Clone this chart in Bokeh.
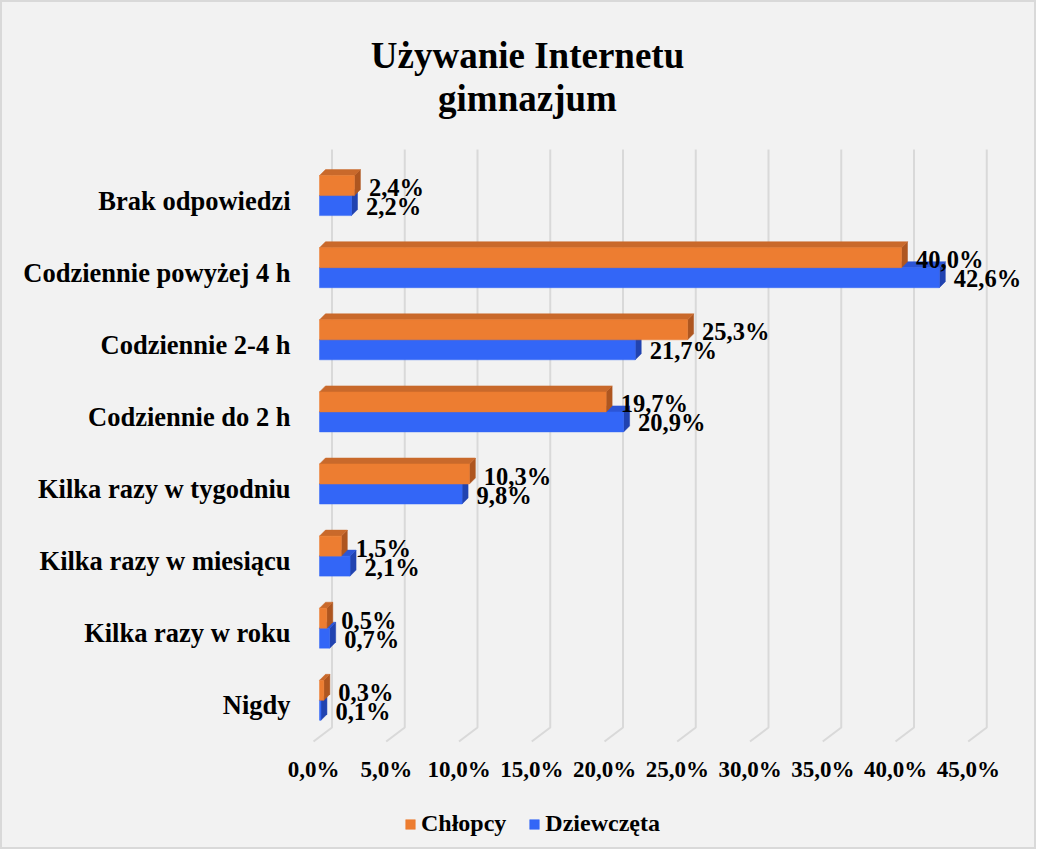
from bokeh.plotting import figure
from bokeh.models import Range1d, ColumnDataSource, Legend, LegendItem
from bokeh.core.properties import value
from bokeh.embed import file_html
from bokeh.resources import INLINE

# ---- data ----
categories = ["Nigdy", "Kilka razy w roku", "Kilka razy w miesiącu", "Kilka razy w tygodniu",
              "Codziennie do 2 h", "Codziennie 2-4 h", "Codziennie powyżej 4 h", "Brak odpowiedzi"]
chlopcy = [0.3, 0.5, 1.5, 10.3, 19.7, 25.3, 40.0, 2.4]
dziewczeta = [0.1, 0.7, 2.1, 9.8, 20.9, 21.7, 42.6, 2.2]
ticks = [0, 5, 10, 15, 20, 25, 30, 35, 40, 45]
tick_labels = ["0,0%", "5,0%", "10,0%", "15,0%", "20,0%", "25,0%", "30,0%", "35,0%", "40,0%", "45,0%"]
series_names = ["Chłopcy", "Dziewczęta"]
title_lines = ["Używanie Internetu", "gimnazjum"]

# ---- layout constants (pixels) ----
W, H = 1036, 849
X0PX = 319.0      # x pixel (in figure) of 0 % (bar front)
XS = 14.55        # px per percent
Y0PX = 699.8      # y pixel (from top of figure) of category 0 centre
YS = 72.1         # px per category
BAR_H = 20.0      # px
DEP = 6.0         # depth offset px
FONT_NAME = "Liberation Serif"
FONT = value(FONT_NAME)


def px_x(d):
    return d / XS


def px_y(d):
    return d / YS


def fx(px):  # figure pixel -> data x
    return (px - X0PX) / XS


def fy(py):  # figure pixel (from top) -> data y
    return (Y0PX - py) / YS


p = figure(width=W, height=H, output_backend="svg", toolbar_location=None,
           x_range=Range1d(fx(0), fx(W)), y_range=Range1d(fy(H), fy(0)),
           x_axis_location=None, y_axis_location=None, min_border=0)
p.grid.visible = False
p.background_fill_color = "#f2f2f2"
p.border_fill_color = "#f2f2f2"
p.outline_line_color = "#d9d9d9"
p.outline_line_width = 3

# ---- back wall grid + floor diagonals ----
wall_top = fy(149)
wall_bot = fy(727)
floor_front = fy(741)
back_dx = px_x(12.5)
front_dx = px_x(-6)
gx, gy = [], []
for t in ticks:
    gx.append([t + back_dx, t + back_dx, t + front_dx])
    gy.append([wall_top, wall_bot, floor_front])
p.multi_line(gx, gy, line_color="#d9d9d9", line_width=2)

# ---- 3D bars ----
bh = px_y(BAR_H)
ddx = px_x(DEP)
ddy = px_y(DEP)
styles = {
    "Chłopcy": dict(front="#ED7D31", top="#C9692B", side="#AE5620"),
    "Dziewczęta": dict(front="#3366F7", top="#2C55D6", side="#2143B0"),
}
front_renderers = {}
for name, vals, off in (("Dziewczęta", dziewczeta, -bh), ("Chłopcy", chlopcy, 0.0)):
    st = styles[name]
    ys_bot = [i + off for i in range(len(categories))]
    ys_top = [y + bh for y in ys_bot]
    # side faces
    sx = [[v, v, v + ddx, v + ddx] for v in vals]
    sy = [[yb, yt, yt + ddy, yb + ddy] for yb, yt in zip(ys_bot, ys_top)]
    p.patches(sx, sy, fill_color=st["side"], line_color=st["side"], line_width=0.5)
    # top faces
    tx = [[0, v, v + ddx, ddx] for v in vals]
    ty = [[yt, yt, yt + ddy, yt + ddy] for yt in ys_top]
    p.patches(tx, ty, fill_color=st["top"], line_color=st["top"], line_width=0.5)
    # front faces
    src = ColumnDataSource(dict(left=[0] * len(vals), right=vals, bottom=ys_bot, top=ys_top))
    r = p.quad(left="left", right="right", bottom="bottom", top="top", source=src,
               fill_color=st["front"], line_color=st["front"], line_width=0.5)
    front_renderers[name] = r

# ---- value labels ----
def fmt(v):
    return f"{v:.1f}".replace(".", ",") + "%"

lab_dx = px_x(14.5)
p.text([v + lab_dx for v in chlopcy], [i + px_y(8) for i in range(len(categories))],
       text=[fmt(v) for v in chlopcy], text_font=FONT, text_font_style="bold",
       text_font_size="24.5px", text_baseline="middle", text_align="left", text_color="black")
p.text([v + lab_dx for v in dziewczeta], [i - px_y(11) for i in range(len(categories))],
       text=[fmt(v) for v in dziewczeta], text_font=FONT, text_font_style="bold",
       text_font_size="24.5px", text_baseline="middle", text_align="left", text_color="black")

# ---- category labels ----
p.text([fx(290)] * len(categories), [i - px_y(5) for i in range(len(categories))],
       text=categories, text_font=FONT, text_font_style="bold", text_font_size="26.5px",
       text_baseline="middle", text_align="right", text_color="black")

# ---- tick labels ----
p.text([t + front_dx for t in ticks], [fy(769)] * len(ticks), text=tick_labels,
       text_font=FONT, text_font_style="bold", text_font_size="23px",
       text_baseline="middle", text_align="center", text_color="black")

# ---- title ----
p.text([fx(527)] * 2, [fy(55), fy(98)], text=title_lines, text_font=FONT,
       text_font_style="bold", text_font_size="37px", text_baseline="alphabetic",
       text_align="center", text_color="black")

# ---- legend ----
legend = Legend(items=[LegendItem(label=series_names[0], renderers=[front_renderers["Chłopcy"]]),
                       LegendItem(label=series_names[1], renderers=[front_renderers["Dziewczęta"]])],
                orientation="horizontal", location=(404, 12),
                glyph_width=12, glyph_height=12, label_standoff=5, spacing=22,
                padding=0, margin=0, border_line_color=None, background_fill_alpha=0,
                label_text_font=FONT_NAME, label_text_font_style="bold", label_text_font_size="24px",
                label_text_color="black")
p.add_layout(legend)

open("out.html", "w").write(file_html(p, INLINE))
